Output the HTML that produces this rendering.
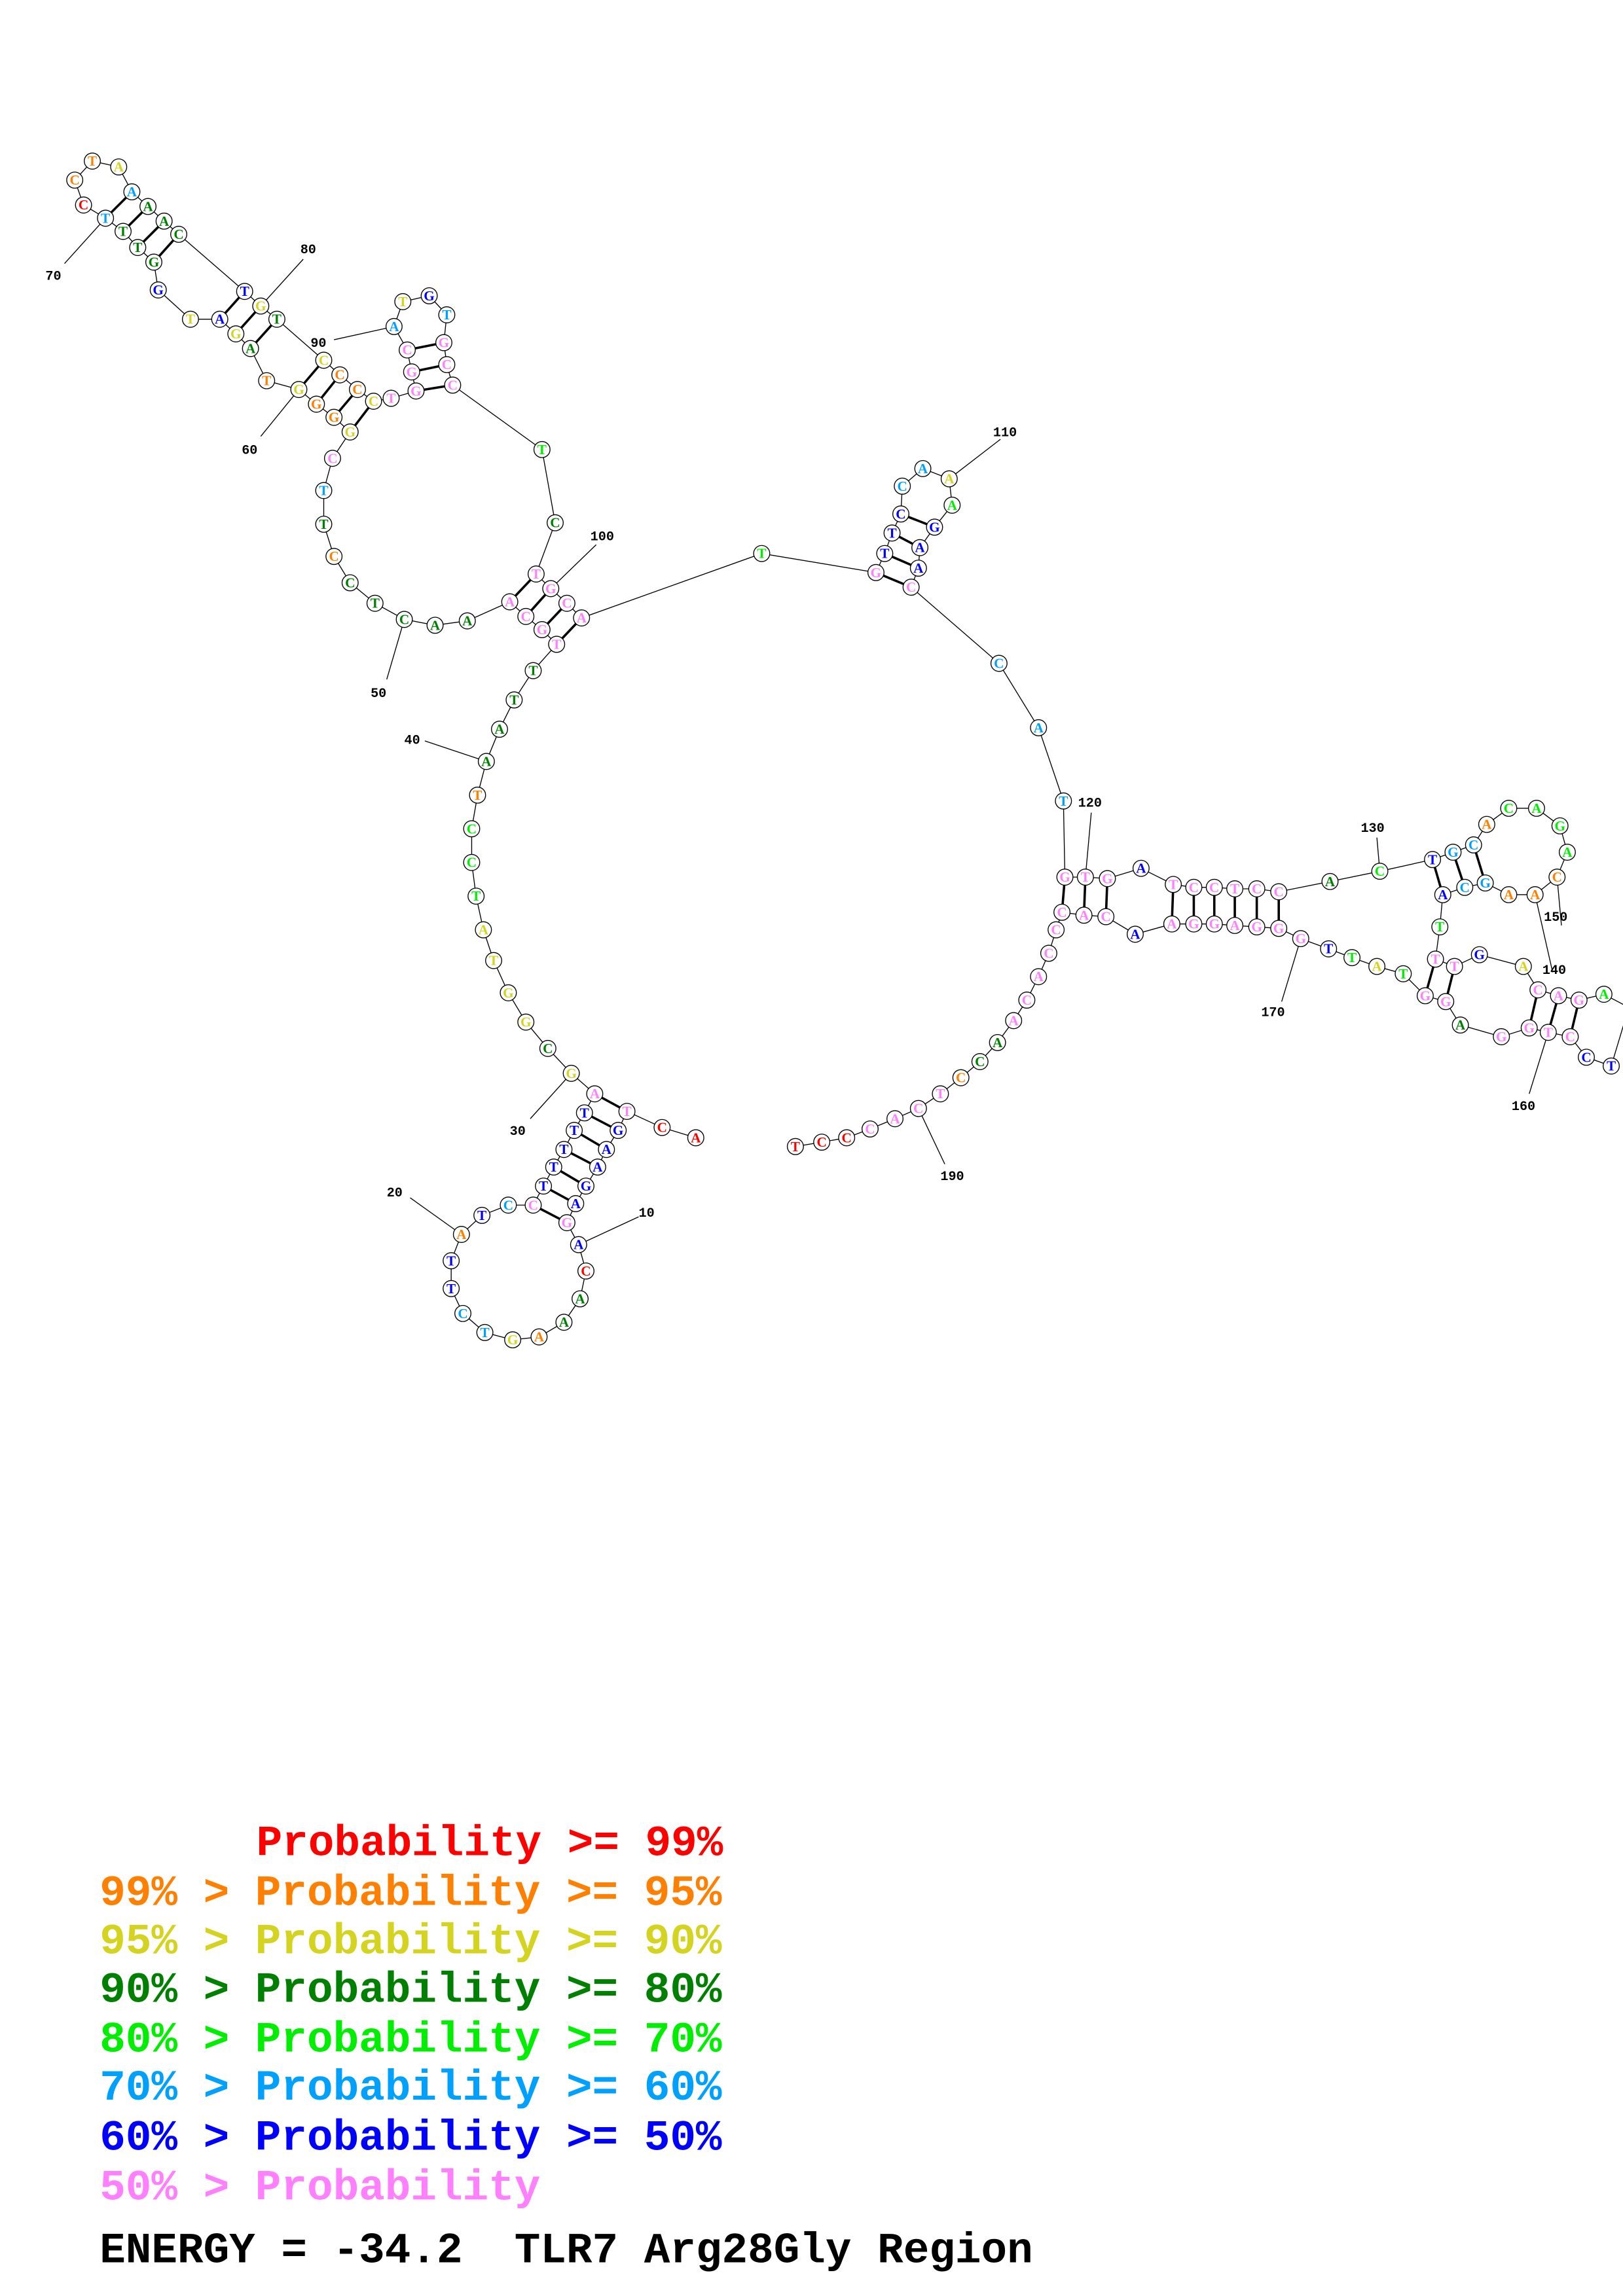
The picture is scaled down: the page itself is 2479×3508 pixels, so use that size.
<!DOCTYPE html>
<html><head><meta charset="utf-8"><style>
html,body{margin:0;padding:0;background:#fff}
svg{display:block}
.n circle{fill:#fff;stroke:#000;stroke-width:0.6}
.t text{font-family:"Liberation Serif",serif;font-weight:bold;font-size:9.5px;text-anchor:middle;dominant-baseline:central}
.lb{font-family:"Liberation Mono",monospace;font-weight:bold;font-size:9px;fill:#000}
.lg{font-family:"Liberation Mono",monospace;font-weight:bold;font-size:29.5px;white-space:pre}
</style></head><body>
<svg width="2479" height="3508" viewBox="0 0 1108 1568" xmlns="http://www.w3.org/2000/svg">
<rect width="1108" height="1568" fill="#fff"/>
<polyline fill="none" stroke="#000" stroke-width="0.6" points="475,777 452,770 428,759 422,772 414,785 408,797 400,810 393,822 387,835 395,850 400,868 396,887 385,903 368,913 350,915 331,910 316,897 308,880 308,861 315,843 329,830 347,823 364,823 371,810 378,797 385,785 392,772 399,760 406,747 390,733 374,716 359,698 347,678 337,656 330,635 325,612 322,589 322,566 326,543 332,520 341,498 351,478 364,458 380,440 370,430 359,421 348,411 319,424 297,427 276,423 256,412 239,398 228,380 221,358 221,335 227,313 239,295 228,285 216,276 204,266 182,260 171,238 161,228 150,218 130,218 108,198 105,179 94,169 84,158 72,149 57,140 51,123 63,110 81,114 90,131 101,141 112,151 122,160 167,199 178,209 189,218 221,246 232,256 244,266 255,274 267,272 284,267 281,254 278,239 269,223 275,206 293,202 305,215 303,234 305,249 309,263 370,307 379,357 366,392 376,402 387,412 397,422 520,378 598,391 604,378 609,364 615,351 616,332 630,320 648,327 650,345 638,360 628,374 627,388 622,401 682,453 709,497 726,547 727,599 741,599 756,600 779,593 801,604 815,606 829,606 843,607 858,607 873,609 908,602 942,595 978,587 992,582 1006,577 1015,563 1030,552 1049,552 1065,564 1070,582 1063,599 1048,611 1030,611 1014,603 1000,606 985,611 983,633 980,655 993,660 1010,652 1040,660 1050,676 1064,680 1078,683 1095,679 1112,688 1100,728 1083,722 1072,708 1057,705 1044,702 1025,708 997,700 987,684 973,680 958,665 940,660 923,654 907,648 888,641 873,634 858,633 843,632 829,631 815,631 800,631 775,638 755,626 740,625 725,623 721,635 716,651 709,667 701,683 692,697 681,712 669,725 656,736 642,747 627,757 611,764 594,771 578,777 561,780 543,783"/>
<g stroke="#000" stroke-width="1.6">
<line x1="428" y1="759" x2="406" y2="747"/><line x1="422" y1="772" x2="399" y2="760"/><line x1="414" y1="785" x2="392" y2="772"/><line x1="408" y1="797" x2="385" y2="785"/><line x1="400" y1="810" x2="378" y2="797"/><line x1="393" y1="822" x2="371" y2="810"/><line x1="387" y1="835" x2="364" y2="823"/>
<line x1="380" y1="440" x2="397" y2="422"/><line x1="370" y1="430" x2="387" y2="412"/><line x1="359" y1="421" x2="376" y2="402"/><line x1="348" y1="411" x2="366" y2="392"/>
<line x1="204" y1="266" x2="221" y2="246"/><line x1="216" y1="276" x2="232" y2="256"/><line x1="228" y1="285" x2="244" y2="266"/><line x1="239" y1="295" x2="255" y2="274"/>
<line x1="150" y1="218" x2="167" y2="199"/><line x1="161" y1="228" x2="178" y2="209"/><line x1="171" y1="238" x2="189" y2="218"/>
<line x1="72" y1="149" x2="90" y2="131"/><line x1="84" y1="158" x2="101" y2="141"/><line x1="94" y1="169" x2="112" y2="151"/><line x1="105" y1="179" x2="122" y2="160"/>
<line x1="284" y1="267" x2="309" y2="263"/><line x1="281" y1="254" x2="305" y2="249"/><line x1="278" y1="239" x2="303" y2="234"/>
<line x1="598" y1="391" x2="622" y2="401"/><line x1="604" y1="378" x2="627" y2="388"/><line x1="609" y1="364" x2="628" y2="374"/><line x1="615" y1="351" x2="638" y2="360"/>
<line x1="727" y1="599" x2="725" y2="623"/><line x1="741" y1="599" x2="740" y2="625"/><line x1="756" y1="600" x2="755" y2="626"/><line x1="801" y1="604" x2="800" y2="631"/><line x1="815" y1="606" x2="815" y2="631"/><line x1="829" y1="606" x2="829" y2="631"/><line x1="843" y1="607" x2="843" y2="632"/><line x1="858" y1="607" x2="858" y2="633"/><line x1="873" y1="609" x2="873" y2="634"/>
<line x1="978" y1="587" x2="985" y2="611"/><line x1="992" y1="582" x2="1000" y2="606"/><line x1="1006" y1="577" x2="1014" y2="603"/>
<line x1="980" y1="655" x2="973" y2="680"/><line x1="993" y1="660" x2="987" y2="684"/>
<line x1="1050" y1="676" x2="1044" y2="702"/><line x1="1064" y1="680" x2="1057" y2="705"/><line x1="1078" y1="683" x2="1072" y2="708"/>
</g>
<g stroke="#000" stroke-width="0.6">
<line x1="395" y1="850" x2="436" y2="831"/><line x1="315" y1="843" x2="280" y2="818"/><line x1="390" y1="733" x2="362" y2="764"/><line x1="332" y1="520" x2="290" y2="506"/><line x1="276" y1="423" x2="264" y2="464"/><line x1="204" y1="266" x2="178" y2="298"/><line x1="72" y1="149" x2="44" y2="180"/><line x1="178" y1="209" x2="207" y2="177"/><line x1="269" y1="223" x2="228" y2="232"/><line x1="376" y1="402" x2="407" y2="372"/><line x1="648" y1="327" x2="683" y2="300"/><line x1="741" y1="599" x2="745" y2="555"/><line x1="942" y1="595" x2="940" y2="572"/><line x1="1048" y1="611" x2="1060" y2="664"/><line x1="1063" y1="599" x2="1066" y2="632"/><line x1="1057" y1="705" x2="1044" y2="747"/><line x1="888" y1="641" x2="875" y2="684"/><line x1="627" y1="757" x2="645" y2="795"/>
</g>
<g class="lb">
<text x="436" y="831">10</text><text x="264" y="817">20</text><text x="348" y="775">30</text><text x="276" y="508">40</text><text x="253" y="476">50</text><text x="165" y="310">60</text><text x="31" y="191">70</text><text x="205" y="173">80</text><text x="212" y="237">90</text><text x="403" y="369">100</text><text x="678" y="298">110</text><text x="736" y="551">120</text><text x="929" y="568">130</text><text x="1053" y="665">140</text><text x="1054" y="629">150</text><text x="1032" y="758">160</text><text x="861" y="694">170</text><text x="642" y="806">190</text>
</g>
<g class="n">
<circle cx="475" cy="777" r="5.5"/><circle cx="452" cy="770" r="5.5"/><circle cx="428" cy="759" r="5.5"/><circle cx="422" cy="772" r="5.5"/><circle cx="414" cy="785" r="5.5"/><circle cx="408" cy="797" r="5.5"/><circle cx="400" cy="810" r="5.5"/><circle cx="393" cy="822" r="5.5"/><circle cx="387" cy="835" r="5.5"/><circle cx="395" cy="850" r="5.5"/><circle cx="400" cy="868" r="5.5"/><circle cx="396" cy="887" r="5.5"/><circle cx="385" cy="903" r="5.5"/><circle cx="368" cy="913" r="5.5"/><circle cx="350" cy="915" r="5.5"/><circle cx="331" cy="910" r="5.5"/><circle cx="316" cy="897" r="5.5"/><circle cx="308" cy="880" r="5.5"/><circle cx="308" cy="861" r="5.5"/><circle cx="315" cy="843" r="5.5"/><circle cx="329" cy="830" r="5.5"/><circle cx="347" cy="823" r="5.5"/><circle cx="364" cy="823" r="5.5"/><circle cx="371" cy="810" r="5.5"/><circle cx="378" cy="797" r="5.5"/><circle cx="385" cy="785" r="5.5"/><circle cx="392" cy="772" r="5.5"/><circle cx="399" cy="760" r="5.5"/><circle cx="406" cy="747" r="5.5"/><circle cx="390" cy="733" r="5.5"/><circle cx="374" cy="716" r="5.5"/><circle cx="359" cy="698" r="5.5"/><circle cx="347" cy="678" r="5.5"/><circle cx="337" cy="656" r="5.5"/><circle cx="330" cy="635" r="5.5"/><circle cx="325" cy="612" r="5.5"/><circle cx="322" cy="589" r="5.5"/><circle cx="322" cy="566" r="5.5"/><circle cx="326" cy="543" r="5.5"/><circle cx="332" cy="520" r="5.5"/><circle cx="341" cy="498" r="5.5"/><circle cx="351" cy="478" r="5.5"/><circle cx="364" cy="458" r="5.5"/><circle cx="380" cy="440" r="5.5"/><circle cx="370" cy="430" r="5.5"/><circle cx="359" cy="421" r="5.5"/><circle cx="348" cy="411" r="5.5"/><circle cx="319" cy="424" r="5.5"/><circle cx="297" cy="427" r="5.5"/><circle cx="276" cy="423" r="5.5"/><circle cx="256" cy="412" r="5.5"/><circle cx="239" cy="398" r="5.5"/><circle cx="228" cy="380" r="5.5"/><circle cx="221" cy="358" r="5.5"/><circle cx="221" cy="335" r="5.5"/><circle cx="227" cy="313" r="5.5"/><circle cx="239" cy="295" r="5.5"/><circle cx="228" cy="285" r="5.5"/><circle cx="216" cy="276" r="5.5"/><circle cx="204" cy="266" r="5.5"/><circle cx="182" cy="260" r="5.5"/><circle cx="171" cy="238" r="5.5"/><circle cx="161" cy="228" r="5.5"/><circle cx="150" cy="218" r="5.5"/><circle cx="130" cy="218" r="5.5"/><circle cx="108" cy="198" r="5.5"/><circle cx="105" cy="179" r="5.5"/><circle cx="94" cy="169" r="5.5"/><circle cx="84" cy="158" r="5.5"/><circle cx="72" cy="149" r="5.5"/><circle cx="57" cy="140" r="5.5"/><circle cx="51" cy="123" r="5.5"/><circle cx="63" cy="110" r="5.5"/><circle cx="81" cy="114" r="5.5"/><circle cx="90" cy="131" r="5.5"/><circle cx="101" cy="141" r="5.5"/><circle cx="112" cy="151" r="5.5"/><circle cx="122" cy="160" r="5.5"/><circle cx="167" cy="199" r="5.5"/><circle cx="178" cy="209" r="5.5"/><circle cx="189" cy="218" r="5.5"/><circle cx="221" cy="246" r="5.5"/><circle cx="232" cy="256" r="5.5"/><circle cx="244" cy="266" r="5.5"/><circle cx="255" cy="274" r="5.5"/><circle cx="267" cy="272" r="5.5"/><circle cx="284" cy="267" r="5.5"/><circle cx="281" cy="254" r="5.5"/><circle cx="278" cy="239" r="5.5"/><circle cx="269" cy="223" r="5.5"/><circle cx="275" cy="206" r="5.5"/><circle cx="293" cy="202" r="5.5"/><circle cx="305" cy="215" r="5.5"/><circle cx="303" cy="234" r="5.5"/><circle cx="305" cy="249" r="5.5"/><circle cx="309" cy="263" r="5.5"/><circle cx="370" cy="307" r="5.5"/><circle cx="379" cy="357" r="5.5"/><circle cx="366" cy="392" r="5.5"/><circle cx="376" cy="402" r="5.5"/><circle cx="387" cy="412" r="5.5"/><circle cx="397" cy="422" r="5.5"/><circle cx="520" cy="378" r="5.5"/><circle cx="598" cy="391" r="5.5"/><circle cx="604" cy="378" r="5.5"/><circle cx="609" cy="364" r="5.5"/><circle cx="615" cy="351" r="5.5"/><circle cx="616" cy="332" r="5.5"/><circle cx="630" cy="320" r="5.5"/><circle cx="648" cy="327" r="5.5"/><circle cx="650" cy="345" r="5.5"/><circle cx="638" cy="360" r="5.5"/><circle cx="628" cy="374" r="5.5"/><circle cx="627" cy="388" r="5.5"/><circle cx="622" cy="401" r="5.5"/><circle cx="682" cy="453" r="5.5"/><circle cx="709" cy="497" r="5.5"/><circle cx="726" cy="547" r="5.5"/><circle cx="727" cy="599" r="5.5"/><circle cx="741" cy="599" r="5.5"/><circle cx="756" cy="600" r="5.5"/><circle cx="779" cy="593" r="5.5"/><circle cx="801" cy="604" r="5.5"/><circle cx="815" cy="606" r="5.5"/><circle cx="829" cy="606" r="5.5"/><circle cx="843" cy="607" r="5.5"/><circle cx="858" cy="607" r="5.5"/><circle cx="873" cy="609" r="5.5"/><circle cx="908" cy="602" r="5.5"/><circle cx="942" cy="595" r="5.5"/><circle cx="978" cy="587" r="5.5"/><circle cx="992" cy="582" r="5.5"/><circle cx="1006" cy="577" r="5.5"/><circle cx="1015" cy="563" r="5.5"/><circle cx="1030" cy="552" r="5.5"/><circle cx="1049" cy="552" r="5.5"/><circle cx="1065" cy="564" r="5.5"/><circle cx="1070" cy="582" r="5.5"/><circle cx="1063" cy="599" r="5.5"/><circle cx="1048" cy="611" r="5.5"/><circle cx="1030" cy="611" r="5.5"/><circle cx="1014" cy="603" r="5.5"/><circle cx="1000" cy="606" r="5.5"/><circle cx="985" cy="611" r="5.5"/><circle cx="983" cy="633" r="5.5"/><circle cx="980" cy="655" r="5.5"/><circle cx="993" cy="660" r="5.5"/><circle cx="1010" cy="652" r="5.5"/><circle cx="1040" cy="660" r="5.5"/><circle cx="1050" cy="676" r="5.5"/><circle cx="1064" cy="680" r="5.5"/><circle cx="1078" cy="683" r="5.5"/><circle cx="1095" cy="679" r="5.5"/><circle cx="1100" cy="728" r="5.5"/><circle cx="1083" cy="722" r="5.5"/><circle cx="1072" cy="708" r="5.5"/><circle cx="1057" cy="705" r="5.5"/><circle cx="1044" cy="702" r="5.5"/><circle cx="1025" cy="708" r="5.5"/><circle cx="997" cy="700" r="5.5"/><circle cx="987" cy="684" r="5.5"/><circle cx="973" cy="680" r="5.5"/><circle cx="958" cy="665" r="5.5"/><circle cx="940" cy="660" r="5.5"/><circle cx="923" cy="654" r="5.5"/><circle cx="907" cy="648" r="5.5"/><circle cx="888" cy="641" r="5.5"/><circle cx="873" cy="634" r="5.5"/><circle cx="858" cy="633" r="5.5"/><circle cx="843" cy="632" r="5.5"/><circle cx="829" cy="631" r="5.5"/><circle cx="815" cy="631" r="5.5"/><circle cx="800" cy="631" r="5.5"/><circle cx="775" cy="638" r="5.5"/><circle cx="755" cy="626" r="5.5"/><circle cx="740" cy="625" r="5.5"/><circle cx="725" cy="623" r="5.5"/><circle cx="721" cy="635" r="5.5"/><circle cx="716" cy="651" r="5.5"/><circle cx="709" cy="667" r="5.5"/><circle cx="701" cy="683" r="5.5"/><circle cx="692" cy="697" r="5.5"/><circle cx="681" cy="712" r="5.5"/><circle cx="669" cy="725" r="5.5"/><circle cx="656" cy="736" r="5.5"/><circle cx="642" cy="747" r="5.5"/><circle cx="627" cy="757" r="5.5"/><circle cx="611" cy="764" r="5.5"/><circle cx="594" cy="771" r="5.5"/><circle cx="578" cy="777" r="5.5"/><circle cx="561" cy="780" r="5.5"/><circle cx="543" cy="783" r="5.5"/>
</g>
<g class="t">
<g fill="#ff0000"><text x="475" y="777">A</text><text x="452" y="770">C</text><text x="400" y="868">C</text><text x="57" y="140">C</text><text x="578" y="777">C</text><text x="561" y="780">C</text><text x="543" y="783">T</text></g>
<g fill="#ff8000"><text x="368" y="913">A</text><text x="315" y="843">A</text><text x="326" y="543">T</text><text x="228" y="380">C</text><text x="228" y="285">G</text><text x="216" y="276">G</text><text x="182" y="260">T</text><text x="51" y="123">C</text><text x="63" y="110">T</text><text x="232" y="256">C</text><text x="244" y="266">C</text><text x="1015" y="563">A</text><text x="1063" y="599">C</text><text x="1048" y="611">A</text><text x="1030" y="611">A</text><text x="656" y="736">C</text></g>
<g fill="#d4d420"><text x="350" y="915">G</text><text x="390" y="733">G</text><text x="359" y="698">G</text><text x="347" y="678">G</text><text x="337" y="656">T</text><text x="330" y="635">A</text><text x="239" y="295">G</text><text x="204" y="266">G</text><text x="161" y="228">G</text><text x="130" y="218">T</text><text x="81" y="114">A</text><text x="178" y="209">G</text><text x="221" y="246">C</text><text x="255" y="274">C</text><text x="275" y="206">T</text><text x="648" y="327">A</text><text x="1040" y="660">A</text><text x="940" y="660">A</text></g>
<g fill="#008000"><text x="396" y="887">A</text><text x="385" y="903">A</text><text x="374" y="716">C</text><text x="332" y="520">A</text><text x="341" y="498">A</text><text x="351" y="478">T</text><text x="364" y="458">T</text><text x="319" y="424">A</text><text x="297" y="427">A</text><text x="276" y="423">C</text><text x="256" y="412">T</text><text x="239" y="398">C</text><text x="221" y="358">T</text><text x="171" y="238">A</text><text x="105" y="179">G</text><text x="94" y="169">T</text><text x="84" y="158">T</text><text x="101" y="141">A</text><text x="112" y="151">A</text><text x="122" y="160">C</text><text x="189" y="218">T</text><text x="379" y="357">C</text><text x="908" y="602">A</text><text x="997" y="700">A</text><text x="681" y="712">A</text><text x="669" y="725">C</text></g>
<g fill="#00ee00"><text x="325" y="612">T</text><text x="322" y="589">C</text><text x="322" y="566">C</text><text x="370" y="307">T</text><text x="520" y="378">T</text><text x="650" y="345">A</text><text x="942" y="595">C</text><text x="1030" y="552">C</text><text x="1049" y="552">A</text><text x="1065" y="564">G</text><text x="1070" y="582">A</text><text x="983" y="633">T</text><text x="1095" y="679">A</text><text x="958" y="665">T</text><text x="923" y="654">T</text></g>
<g fill="#00a0ff"><text x="331" y="910">T</text><text x="316" y="897">C</text><text x="347" y="823">C</text><text x="221" y="335">T</text><text x="72" y="149">T</text><text x="90" y="131">A</text><text x="269" y="223">A</text><text x="305" y="215">T</text><text x="616" y="332">C</text><text x="630" y="320">A</text><text x="682" y="453">C</text><text x="709" y="497">A</text><text x="726" y="547">T</text><text x="992" y="582">G</text><text x="1006" y="577">C</text><text x="1014" y="603">G</text><text x="1000" y="606">C</text></g>
<g fill="#0000ff"><text x="422" y="772">G</text><text x="414" y="785">A</text><text x="408" y="797">A</text><text x="400" y="810">G</text><text x="393" y="822">A</text><text x="395" y="850">A</text><text x="308" y="880">T</text><text x="308" y="861">T</text><text x="329" y="830">T</text><text x="371" y="810">T</text><text x="378" y="797">T</text><text x="385" y="785">T</text><text x="392" y="772">T</text><text x="399" y="760">T</text><text x="150" y="218">A</text><text x="108" y="198">G</text><text x="167" y="199">T</text><text x="293" y="202">G</text><text x="604" y="378">T</text><text x="609" y="364">T</text><text x="615" y="351">C</text><text x="638" y="360">G</text><text x="628" y="374">A</text><text x="627" y="388">A</text><text x="779" y="593">A</text><text x="978" y="587">T</text><text x="985" y="611">A</text><text x="1010" y="652">G</text><text x="1100" y="728">T</text><text x="1083" y="722">C</text><text x="907" y="648">T</text><text x="775" y="638">A</text></g>
<g fill="#ff80ff"><text x="428" y="759">T</text><text x="387" y="835">G</text><text x="364" y="823">C</text><text x="406" y="747">A</text><text x="380" y="440">T</text><text x="370" y="430">G</text><text x="359" y="421">C</text><text x="348" y="411">A</text><text x="227" y="313">C</text><text x="267" y="272">T</text><text x="284" y="267">G</text><text x="281" y="254">G</text><text x="278" y="239">C</text><text x="303" y="234">G</text><text x="305" y="249">C</text><text x="309" y="263">C</text><text x="366" y="392">T</text><text x="376" y="402">G</text><text x="387" y="412">C</text><text x="397" y="422">A</text><text x="598" y="391">G</text><text x="622" y="401">C</text><text x="727" y="599">G</text><text x="741" y="599">T</text><text x="756" y="600">G</text><text x="801" y="604">T</text><text x="815" y="606">C</text><text x="829" y="606">C</text><text x="843" y="607">T</text><text x="858" y="607">C</text><text x="873" y="609">C</text><text x="980" y="655">T</text><text x="993" y="660">T</text><text x="1050" y="676">C</text><text x="1064" y="680">A</text><text x="1078" y="683">G</text><text x="1072" y="708">C</text><text x="1057" y="705">T</text><text x="1044" y="702">G</text><text x="1025" y="708">G</text><text x="987" y="684">G</text><text x="973" y="680">G</text><text x="888" y="641">G</text><text x="873" y="634">G</text><text x="858" y="633">G</text><text x="843" y="632">A</text><text x="829" y="631">G</text><text x="815" y="631">G</text><text x="800" y="631">A</text><text x="755" y="626">C</text><text x="740" y="625">A</text><text x="725" y="623">C</text><text x="721" y="635">C</text><text x="716" y="651">C</text><text x="709" y="667">A</text><text x="701" y="683">C</text><text x="692" y="697">A</text><text x="642" y="747">T</text><text x="627" y="757">C</text><text x="611" y="764">A</text><text x="594" y="771">C</text></g>
</g>
<g class="lg">
<text x="175" y="1267" fill="#ff0000">Probability &gt;= 99%</text>
<text x="68" y="1301" fill="#ff8000">99% &gt; Probability &gt;= 95%</text>
<text x="68" y="1334" fill="#d4d420">95% &gt; Probability &gt;= 90%</text>
<text x="68" y="1367" fill="#008000">90% &gt; Probability &gt;= 80%</text>
<text x="68" y="1401" fill="#00ee00">80% &gt; Probability &gt;= 70%</text>
<text x="68" y="1434" fill="#00a0ff">70% &gt; Probability &gt;= 60%</text>
<text x="68" y="1468" fill="#0000ff">60% &gt; Probability &gt;= 50%</text>
<text x="68" y="1502" fill="#ff80ff">50% &gt; Probability</text>
<text x="68" y="1545" fill="#000">ENERGY = -34.2&#160; TLR7 Arg28Gly Region</text>
</g>
</svg>
</body></html>
